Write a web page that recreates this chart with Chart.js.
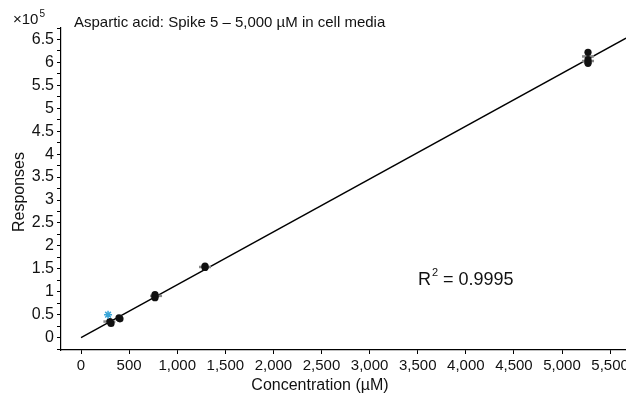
<!DOCTYPE html>
<html>
<head>
<meta charset="utf-8">
<script src="https://cdn.jsdelivr.net/npm/chart.js@4"></script>
<style>
html,body{margin:0;padding:0;background:#fff;overflow:hidden;}
canvas{display:block;}
</style>
</head>
<body>
<canvas id="c" width="626" height="397"></canvas>
<script>
// Data (responses in units of 10^5)
const concentration = [300, 312, 395, 405, 769, 769, 769, 1289, 1289, 5270, 5270, 5270, 5270];
const responses = [0.35, 0.31, 0.43, 0.41, 0.87, 0.90, 0.94, 1.53, 1.56, 6.22, 6.06, 6.01, 5.98];
const overlayConc = [295, 780, 1289, 5270, 5270];
const overlayResp = [0.35, 0.91, 1.54, 6.13, 6.03];
const excludedConc = [281];
const excludedResp = [0.50];
const fitX = [0, 5665];
const fitY = [0, 6.53];
const xTickValues = [0, 500, 1000, 1500, 2000, 2500, 3000, 3500, 4000, 4500, 5000, 5500];
const yMajorTicks = [0, 0.5, 1, 1.5, 2, 2.5, 3, 3.5, 4, 4.5, 5, 5.5, 6, 6.5];
const titleText = 'Aspartic acid: Spike 5 \u2013 5,000 \u00b5M in cell media';
const xTitle = 'Concentration (\u00b5M)';
const yTitle = 'Responses';
const r2Text = '0.9995';

const FONT = '"Liberation Sans", Arial, sans-serif';

const toXY = (xs, ys) => xs.map((x, i) => ({x: x, y: ys[i]}));

const textPlugin = {
  id: 'texts',
  afterDraw(chart) {
    const ctx = chart.ctx;
    ctx.save();
    ctx.fillStyle = '#111';
    ctx.textBaseline = 'alphabetic';
    // title
    ctx.font = '15px ' + FONT;
    ctx.textAlign = 'left';
    ctx.fillText(titleText, 74, 27);
    // x10^5
    ctx.font = '15px ' + FONT;
    ctx.fillText('\u00d710', 13, 24);
    const w = ctx.measureText('\u00d710').width;
    ctx.font = '10px ' + FONT;
    ctx.fillText('5', 13 + w + 1, 17);
    // x title
    ctx.font = '16px ' + FONT;
    ctx.textAlign = 'center';
    ctx.fillText(xTitle, 320, 390);
    // y title
    ctx.save();
    ctx.translate(24, 192);
    ctx.rotate(-Math.PI / 2);
    ctx.fillText(yTitle, 0, 0);
    ctx.restore();
    // R2
    ctx.textAlign = 'left';
    ctx.font = '18px ' + FONT;
    ctx.fillText('R', 418, 285);
    const rw = ctx.measureText('R').width;
    ctx.font = '11px ' + FONT;
    ctx.fillText('2', 418 + rw + 1, 276);
    ctx.font = '18px ' + FONT;
    ctx.fillText(' = ' + r2Text, 418 + rw + 7, 285);
    ctx.restore();
  }
};

new Chart(document.getElementById('c'), {
  type: 'scatter',
  data: {
    datasets: [
      {
        type: 'line',
        data: toXY(fitX, fitY),
        borderColor: '#000',
        borderWidth: 1.4,
        pointRadius: 0,
        fill: false,
        order: 3
      },
      {
        data: toXY(overlayConc, overlayResp),
        pointStyle: 'line',
        pointRadius: 6,
        borderColor: '#888',
        borderWidth: 2.5,
        backgroundColor: '#888',
        order: 2
      },
      {
        data: toXY(concentration, responses),
        pointStyle: 'circle',
        pointRadius: 3.6,
        backgroundColor: '#111',
        borderColor: '#111',
        borderWidth: 0,
        order: 1
      },
      {
        data: toXY(excludedConc, excludedResp),
        pointStyle: 'star',
        pointRadius: 4,
        borderColor: '#3aa6d8',
        borderWidth: 1.5,
        order: 0
      }
    ]
  },
  options: {
    responsive: false,
    animation: false,
    events: [],
    layout: {autoPadding: false, padding: {top: 28, right: 0, left: 0, bottom: 0}},
    plugins: {legend: {display: false}, tooltip: {enabled: false}, title: {display: false}},
    scales: {
      x: {
        type: 'linear',
        min: -208,
        max: 5665,
        afterBuildTicks(scale) { scale.ticks = xTickValues.map(v => ({value: v})); },
        afterFit(scale) { scale.height = 47; scale.paddingRight = 0; scale.paddingLeft = 0; },
        ticks: {
          color: '#111',
          font: {family: FONT, size: 15},
          padding: 3,
          maxRotation: 0,
          autoSkip: false,
          callback: v => v.toLocaleString('en-US')
        },
        grid: {drawOnChartArea: false, tickLength: 4, color: '#000', tickColor: '#000'},
        border: {color: '#000', width: 1.2}
      },
      y: {
        type: 'linear',
        min: -0.27,
        max: 6.75,
        afterBuildTicks(scale) {
          const t = [];
          for (let i = -1; i <= 27; i++) t.push({value: i * 0.25});
          scale.ticks = t;
        },
        afterFit(scale) { scale.width = 61; scale.paddingTop = 0; scale.paddingBottom = 0; },
        ticks: {
          color: '#111',
          font: {family: FONT, size: 16},
          padding: 3,
          autoSkip: false,
          callback: v => {
            const m = yMajorTicks.find(t => Math.abs(t - v) < 1e-6);
            return m === undefined ? '' : String(m);
          }
        },
        grid: {drawOnChartArea: false, tickLength: 4, color: '#000', tickColor: '#000'},
        border: {color: '#000', width: 1.2}
      }
    }
  },
  plugins: [textPlugin]
});
</script>
</body>
</html>
